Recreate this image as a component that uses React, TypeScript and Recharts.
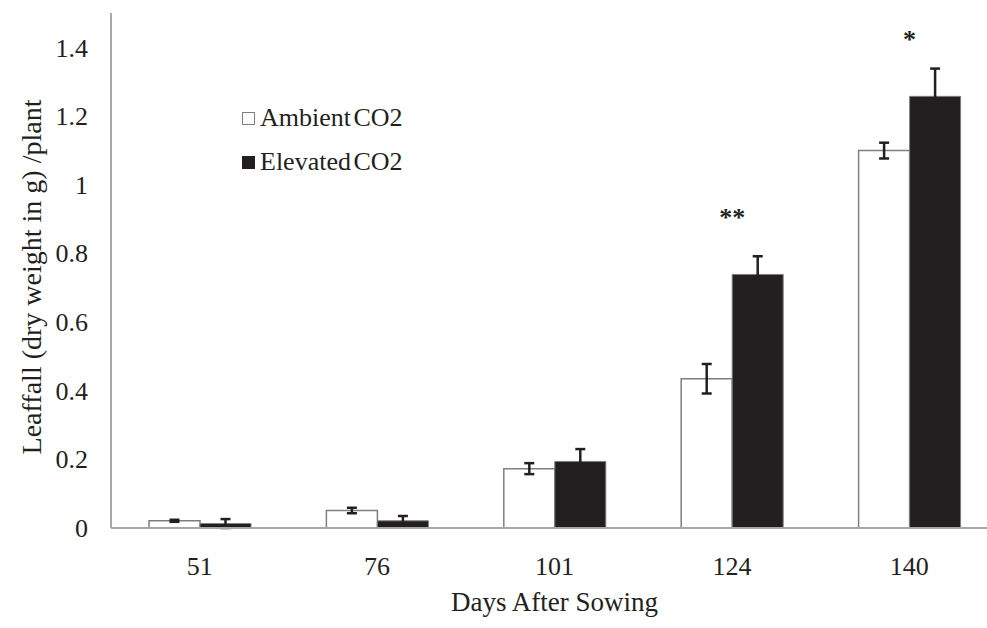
// Leaffall bar chart: ambient vs elevated CO2 by days after sowing

import { BarChart, Bar, XAxis, YAxis, ErrorBar, Legend, LabelList, Label } from 'recharts'

const days = ['51', '76', '101', '124', '140']
const ambient = [0.02, 0.05, 0.172, 0.434, 1.099]
const ambientErr = [0.003, 0.008, 0.016, 0.043, 0.023]
const elevated = [0.012, 0.02, 0.193, 0.738, 1.257]
const elevatedErr = [0.013, 0.014, 0.036, 0.053, 0.081]
const significance = ['', '', '', '**', '*']
const yTicks = [0, 0.2, 0.4, 0.6, 0.8, 1, 1.2, 1.4]

const data = days.map((day, i) => ({
  day,
  ambient: ambient[i],
  ambientErr: ambientErr[i],
  elevated: elevated[i],
  elevatedErr: elevatedErr[i],
  sig: significance[i],
}))

const FONT = '"Liberation Serif", "Times New Roman", serif'
const INK = '#231f20'
const AXIS = '#a6a6a6'
const OUTLINE = '#7f7f7f'

function YTitle() {
  return (
    <text
      x={0}
      y={0}
      transform="translate(41, 277) rotate(-90)"
      textAnchor="middle"
      fontFamily={FONT}
      fontSize={28}
      fill={INK}
    >
      Leaffall (dry weight in g) /plant
    </text>
  )
}

function XTitle(props: any) {
  const vb = props.viewBox || { x: 111, y: 528, width: 887 }
  return (
    <text
      x={vb.x + vb.width / 2}
      y={vb.y + 83}
      textAnchor="middle"
      fontFamily={FONT}
      fontSize={27}
      fill={INK}
    >
      Days After Sowing
    </text>
  )
}

function SigLabel(props: any) {
  const { x, y, value } = props
  if (!value) return null
  return (
    <text x={x} y={y - 48} textAnchor="middle" fontFamily={FONT} fontSize={26} fontWeight="bold" fill={INK}>
      {value}
    </text>
  )
}

function LegendBox() {
  const items = [
    { name: 'Ambient CO2', fill: '#ffffff' },
    { name: 'Elevated CO2', fill: INK },
  ]
  return (
    <div style={{ fontFamily: FONT, fontSize: 26, color: INK }}>
      {items.map((it) => (
        <div key={it.name} style={{ height: 44, display: 'flex', alignItems: 'center', whiteSpace: 'nowrap' }}>
          <span
            style={{
              display: 'inline-block',
              width: 13,
              height: 13,
              boxSizing: 'border-box',
              background: it.fill,
              border: `1px solid ${it.fill === '#ffffff' ? OUTLINE : INK}`,
              marginRight: 5,
            }}
          />
          <span style={{ wordSpacing: -4 }}>{it.name}</span>
        </div>
      ))}
    </div>
  )
}

export default function App() {
  return (
    <div style={{ position: 'absolute', left: 0, top: 0, width: 987, height: 628, overflow: 'hidden', background: '#fff' }}>
      <BarChart
        width={1000}
        height={628}
        data={data}
        margin={{ top: 13, right: 2, left: 0, bottom: 0 }}
        barGap={0}
        barSize={51}
      >
        <XAxis
          dataKey="day"
          axisLine={{ stroke: AXIS, strokeWidth: 2 }}
          tickLine={false}
          tickSize={0}
          tickMargin={29}
          height={100}
          tick={{ fontFamily: FONT, fontSize: 26, fill: INK }}
        >
          <Label content={XTitle} />
        </XAxis>
        <YAxis
          width={111}
          domain={[0, 1.5]}
          ticks={yTicks}
          interval={0}
          axisLine={{ stroke: AXIS, strokeWidth: 2 }}
          tickLine={false}
          tickSize={0}
          tickMargin={23}
          tick={{ fontFamily: FONT, fontSize: 26, fill: INK }}
        >
          <Label content={YTitle} />
        </YAxis>
        <Legend
          layout="vertical"
          align="center"
          verticalAlign="middle"
          content={LegendBox}
          wrapperStyle={{ left: 242, top: 96, width: 'auto', height: 'auto' }}
        />
        <Bar dataKey="ambient" name="Ambient CO2" fill="#ffffff" stroke={OUTLINE} strokeWidth={1.5} isAnimationActive={false}>
          <ErrorBar dataKey="ambientErr" width={5} stroke={INK} strokeWidth={2.5} isAnimationActive={false} />
        </Bar>
        <Bar dataKey="elevated" name="Elevated CO2" fill={INK} stroke={OUTLINE} strokeWidth={1} isAnimationActive={false}>
          <ErrorBar dataKey="elevatedErr" width={5} stroke={INK} strokeWidth={2.5} isAnimationActive={false} />
          <LabelList dataKey="sig" content={SigLabel} />
        </Bar>
      </BarChart>
    </div>
  )
}
